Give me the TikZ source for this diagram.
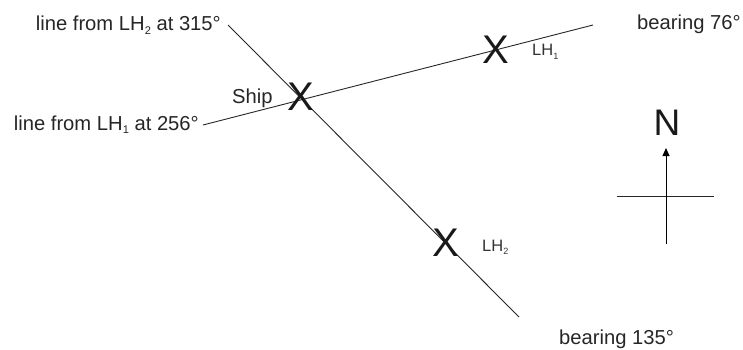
\documentclass[tikz,border=0pt]{standalone}
\usepackage{fontspec}
\setmainfont{Liberation Sans}
\usetikzlibrary{arrows.meta}
\newcommand{\lhsub}[1]{\raisebox{-0.35ex}{\scalebox{0.55}{#1}}}
\tikzset{
  lbl/.style={inner sep=0pt, font=\fontsize{20.2}{23}\selectfont, text=black!85},
  small/.style={inner sep=0pt, font=\fontsize{16.5}{18}\selectfont, text=black!80},
  cross/.style={inner sep=0pt, font=\fontsize{40}{44}\selectfont, text=black!90},
  bline/.style={line width=0.9pt, black!85},
}
\begin{document}
\begin{tikzpicture}[x=1pt,y=-1pt]
\useasboundingbox (0,0) rectangle (743,350);
% end points of the bearing lines
\coordinate (a1) at (203,125);
\coordinate (a2) at (593,25);
\coordinate (b1) at (228,25);
\coordinate (b2) at (519,317);
\draw[bline] (a1) -- (a2);
\draw[bline] (b1) -- (b2);
% crosses
\node[cross] (ship) at (301,97) {X};
\node[cross] (lh1) at (496,50) {X};
\node[cross] (lh2) at (446,243) {X};
% labels
\node[lbl, anchor=base east] (t315) at (221,31) {line from LH\lhsub{2} at 315°};
\node[lbl, anchor=base east] (t256) at (199,130) {line from LH\lhsub{1} at 256°};
\node[lbl, anchor=base west] (tship) at (232,103) {Ship};
\node[lbl, anchor=base west] (t76) at (637,30) {bearing 76°};
\node[lbl, anchor=base west] (t135) at (559,344) {bearing 135°};
\node[small, anchor=base west] (tlh1) at (532,56) {LH\lhsub{1}};
\node[small, anchor=base west] (tlh2) at (482,251) {LH\lhsub{2}};
% compass
\node[inner sep=0pt, font=\fontsize{37}{40}\selectfont, text=black!90] (north) at (667,123) {N};
\coordinate (c0) at (666,244);
\coordinate (c1) at (666,148);
\coordinate (h0) at (617,196);
\coordinate (h1) at (714,196);
\draw[line width=0.9pt, black!85] (h0) -- (h1);
\draw[line width=0.9pt, black, -{Triangle[width=7pt,length=8pt]}] (c0) -- (c1);
\end{tikzpicture}
\end{document}
